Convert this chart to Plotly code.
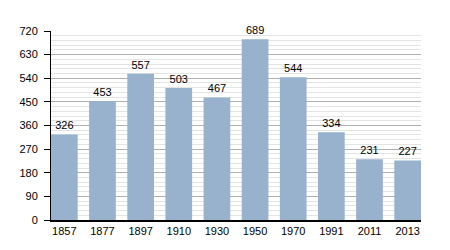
import plotly.graph_objects as go

years = ["1857", "1877", "1897", "1910", "1930", "1950", "1970", "1991", "2011", "2013"]
population = [326, 453, 557, 503, 467, 689, 544, 334, 231, 227]

fig = go.Figure(go.Bar(
    x=years, y=population,
    text=[str(v) for v in population],
    textposition="outside",
    textfont=dict(family="Liberation Sans, Arial, sans-serif", size=11, color="#000"),
    marker=dict(color="#98b1cd", line=dict(width=0)),
    cliponaxis=False,
))

fig.update_layout(
    width=450, height=250,
    margin=dict(l=51, r=29, t=31, b=30),
    plot_bgcolor="white", paper_bgcolor="white",
    bargap=0.3,
    showlegend=False,
    font=dict(family="Liberation Sans, Arial, sans-serif", size=10, color="#000"),
    yaxis2=dict(
        overlaying="y", side="left", anchor="x",
        range=[0, 720], tick0=0, dtick=9,
        ticks="outside", ticklen=3, tickcolor="#000",
        showticklabels=False, showgrid=False, zeroline=False, showline=False,
    ),
)
fig.update_xaxes(
    type="category", range=[-0.35, 9.35],
    showline=True, linecolor="#000", linewidth=1.5,
    ticks="", showgrid=False, tickfont=dict(size=11),
)
fig.update_yaxes(
    selector=dict(anchor=None),
)
fig.layout.yaxis.update(
    range=[0, 720], tick0=0, dtick=90,
    showline=True, linecolor="#000", linewidth=1,
    ticks="outside", ticklen=6, tickcolor="#000",
    showgrid=True, gridcolor="#b0b0b0", gridwidth=1,
    zeroline=False,
    minor=dict(dtick=18, ticks="", showgrid=True, gridcolor="#e4e4e4", gridwidth=1),
    tickfont=dict(size=11),
    ticklabelstandoff=4,
)

fig.write_html("out.html")
